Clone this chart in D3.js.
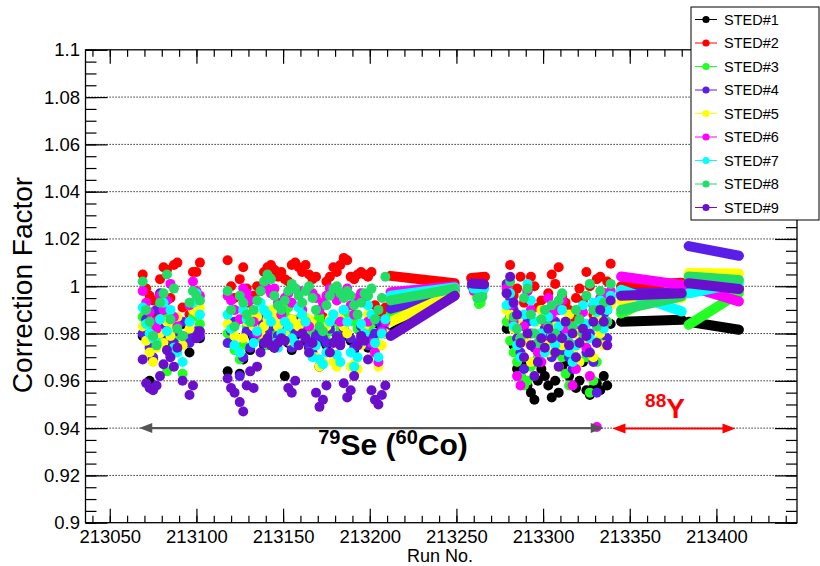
<!DOCTYPE html>
<html><head><meta charset="utf-8">
<script src="https://cdn.jsdelivr.net/npm/d3@7"></script>
<style>body{margin:0;background:#fff} svg{display:block;font-family:"Liberation Sans",Arial,Helvetica,sans-serif}</style>
</head><body><svg id="c" width="820" height="566"></svg>
<script>
const seriesNames = ["STED#1","STED#2","STED#3","STED#4","STED#5","STED#6","STED#7","STED#8","STED#9"];
const seriesColors = ["#000000","#ff0000","#22ff22","#5a1ee8","#ffff00","#ff00ff","#00ffff","#22dd66","#6a0fcc"];
const yTickValues = [0.9,0.92,0.94,0.96,0.98,1.0,1.02,1.04,1.06,1.08,1.1];
const yTickLabels = ["0.9","0.92","0.94","0.96","0.98","1","1.02","1.04","1.06","1.08","1.1"];
const xTickValues = [213050,213100,213150,213200,213250,213300,213350,213400];

const runsA = [213069,213071,213073,213075,213077,213079,213081,213083,213085,213087,213089,213092,213096,213098,213100,213102];
const runsB = [213118,213120,213122,213125,213127,213129,213131,213133,213135,213137,213139,213141,213143,213145,213147,213149,213151,213153,213155,213157,213159,213161,213163,213165,213167,213169,213171,213173,213175,213177,213179,213181,213183,213185,213187,213189,213191,213193,213195,213197,213199,213201,213203,213205,213207,213209];
const runsC = [213279,213281,213283,213285,213287,213289,213291,213293,213295,213297,213299,213301,213303,213305,213307,213309,213311,213313,213315,213317,213319,213321,213323,213325,213327,213329,213331,213333,213335,213337,213339];

const sted1 = [
 0.979,0.985,0.960,0.969,0.989,0.996,0.981,0.977,0.971,0.975,0.980,0.984,0.972,0.978,0.980,0.978,
 0.964,0.980,0.984,0.963,0.969,0.980,0.973,0.978,0.982,0.985,0.975,0.979,0.982,0.974,0.978,0.983,0.962,0.976,0.973,0.979,0.984,0.981,0.977,0.974,0.971,0.978,0.966,0.977,0.975,0.981,0.985,0.978,0.976,0.981,0.979,0.977,0.973,0.975,0.982,0.978,0.974,0.977,0.979,0.984,0.982,0.980,
 0.982,0.987,0.975,0.965,0.962,0.966,0.958,0.955,0.952,0.960,0.965,0.962,0.958,0.953,0.960,0.955,0.966,0.968,0.962,0.958,0.957,0.960,0.968,0.956,0.954,0.957,0.959,0.956,0.962,0.958,0.984];
const sted2 = [
 1.005,0.999,0.996,0.994,0.987,1.003,1.008,1.007,0.995,1.009,1.010,0.991,0.988,1.006,1.006,1.010,
 1.011,1.000,0.995,1.003,1.008,0.999,0.990,0.996,1.000,0.998,1.006,1.008,1.009,1.007,1.004,1.006,1.003,1.002,1.009,1.010,1.008,1.006,1.009,1.005,1.003,1.004,0.988,0.987,1.002,1.004,1.008,1.006,1.009,1.012,1.011,1.004,1.003,1.005,1.006,1.005,1.004,1.006,0.992,0.990,0.989,0.991,
 1.000,1.009,0.996,0.999,1.004,0.993,0.998,1.004,1.000,0.991,0.994,0.985,0.997,1.005,1.001,1.008,0.996,0.993,0.990,0.987,0.995,0.999,0.994,1.006,1.000,0.988,1.003,1.004,0.997,1.002,1.0095];
const sted3 = [
 0.987,0.979,0.975,0.982,0.985,0.979,0.988,0.964,0.983,0.978,0.975,0.963,0.979,0.987,0.992,0.984,
 0.980,0.976,0.973,0.969,0.975,0.983,0.986,0.989,0.984,0.978,0.982,0.975,0.979,0.983,0.980,0.985,0.988,0.991,0.986,0.981,0.986,0.983,0.979,0.983,0.981,0.985,0.987,0.984,0.977,0.981,0.988,0.985,0.982,0.990,0.988,0.986,0.985,0.982,0.978,0.976,0.982,0.984,0.979,0.975,0.980,0.984,
 0.985,0.977,0.972,0.968,0.962,0.958,0.960,0.966,0.975,0.970,0.980,0.983,0.977,0.985,0.982,0.975,0.970,0.963,0.958,0.972,0.980,0.985,0.976,0.970,0.955,0.960,0.968,0.978,0.985,0.990,0.993];
const sted4 = [
 0.980,0.986,0.974,0.970,0.990,0.997,0.982,0.978,0.972,0.976,0.981,0.985,0.976,0.979,0.981,0.979,
 0.976,0.981,0.985,0.962,0.970,0.981,0.974,0.979,0.983,0.986,0.976,0.980,0.983,0.975,0.979,0.984,0.981,0.977,0.974,0.980,0.985,0.982,0.978,0.975,0.972,0.979,0.981,0.978,0.976,0.982,0.986,0.979,0.977,0.982,0.980,0.978,0.974,0.976,0.983,0.979,0.975,0.978,0.980,0.985,0.983,0.981,
 1.001,0.995,0.990,0.978,0.972,0.965,0.985,0.980,0.974,0.968,0.975,0.982,0.978,0.970,0.985,0.980,0.973,0.978,0.970,0.965,0.975,0.982,0.978,0.972,0.980,0.968,0.955,0.985,0.988,0.978,0.996];
const sted5 = [
 0.983,0.977,0.972,0.968,0.974,0.980,0.976,0.985,0.979,0.983,0.987,0.975,0.982,0.990,0.989,0.991,
 0.984,0.982,0.979,0.972,0.978,0.985,0.989,0.983,0.987,0.980,0.983,0.986,0.990,0.987,0.983,0.985,0.980,0.977,0.986,0.984,0.983,0.985,0.987,0.986,0.984,0.970,0.966,0.968,0.983,0.986,0.968,0.966,0.986,0.983,0.980,0.966,0.967,0.965,0.975,0.983,0.988,0.986,0.972,0.966,0.975,0.980,
 0.990,0.988,0.982,0.985,0.978,0.970,0.976,0.968,0.980,0.985,0.990,0.975,0.972,0.978,0.983,0.966,0.975,0.985,0.988,0.972,0.980,0.968,0.975,0.984,0.962,0.970,0.987,0.980,0.975,0.985,0.992];
const sted6 = [
 0.998,0.993,0.989,0.985,0.982,0.996,0.990,0.994,1.001,0.987,0.983,0.979,0.992,1.002,0.998,0.996,
 0.996,0.994,0.990,0.986,0.999,0.997,0.994,0.985,0.980,0.998,1.000,0.999,0.997,0.999,0.993,0.988,0.995,0.997,0.993,0.999,0.998,0.990,0.985,0.983,0.997,0.995,0.990,0.993,0.996,0.999,0.997,0.994,0.985,0.997,0.999,0.992,0.988,0.995,0.997,0.993,0.985,0.976,0.972,0.968,0.981,0.985,
 0.999,0.992,0.985,0.962,0.958,0.983,0.998,0.990,0.975,0.972,0.968,0.985,0.995,0.988,0.978,0.990,0.994,0.982,0.976,0.958,0.965,0.984,0.989,0.974,0.962,0.992,0.9405,0.995,0.997,0.990,0.998];
const sted7 = [
 0.991,0.984,0.980,0.978,0.976,0.986,0.993,0.981,0.990,0.974,0.972,0.968,0.985,0.993,0.997,0.988,
 0.988,0.982,0.975,0.972,0.990,0.986,0.985,0.976,0.981,0.993,0.990,0.988,0.985,0.976,0.974,0.980,0.985,0.983,0.978,0.976,0.991,0.988,0.985,0.972,0.970,0.975,0.969,0.967,0.972,0.985,0.988,0.971,0.968,0.990,0.985,0.972,0.966,0.970,0.984,0.980,0.992,0.988,0.976,0.970,0.980,0.986,
 0.992,0.997,0.983,0.975,0.970,0.988,1.001,0.994,0.985,0.976,0.980,0.972,0.987,0.979,0.975,0.983,0.990,0.978,0.972,0.968,0.975,0.985,0.992,0.984,0.978,0.993,0.989,0.994,0.982,0.990,0.996];
const sted8 = [
 1.002,0.990,0.985,0.979,0.975,0.993,0.997,1.005,0.986,0.999,0.982,0.979,0.993,0.998,0.996,0.994,
 0.998,0.990,0.983,0.996,0.993,0.988,0.985,0.990,0.994,0.998,1.002,1.005,1.003,0.996,0.992,0.990,0.994,0.998,1.001,0.999,0.996,0.993,0.998,1.000,0.995,0.990,0.983,0.981,0.992,0.996,0.999,1.000,0.997,0.995,0.998,0.996,0.992,0.988,0.993,0.997,0.996,0.999,0.986,0.990,0.995,1.004,
 0.997,1.002,0.987,0.982,0.978,0.995,0.999,0.988,0.980,0.976,0.986,0.990,0.983,0.992,0.980,0.994,0.997,0.985,0.976,0.983,0.990,0.986,0.980,0.996,1.001,0.990,0.983,0.998,0.993,0.985,1.001];
const sted9 = [
 0.969,0.959,0.957,0.956,0.958,0.962,0.967,0.973,0.970,0.966,0.974,0.960,0.954,0.958,0.978,0.981,
 0.961,0.957,0.955,0.951,0.947,0.958,0.964,0.957,0.966,0.972,0.976,0.978,0.975,0.974,0.976,0.978,0.977,0.957,0.955,0.960,0.975,0.980,0.978,0.972,0.976,0.955,0.949,0.952,0.958,0.972,0.976,0.978,0.975,0.959,0.953,0.956,0.962,0.975,0.979,0.977,0.969,0.956,0.952,0.950,0.954,0.958,
 0.997,1.004,0.993,0.988,0.976,0.970,0.980,0.975,0.962,0.968,0.978,0.974,0.982,0.978,0.972,0.966,0.978,0.985,0.975,0.980,0.970,0.976,0.982,0.979,0.972,0.985,0.976,0.990,0.985,0.975,0.994];

// runs measured one after another, drawn as continuous bands: [first run, last run]
const bandRuns = [[213212,213249],[213345,213380],[213384,213413]];
const sted1Bands = [[0.980,0.9962],[0.985,0.9858],[0.985,0.9816]];
const sted2Bands = [[1.0044,1.0013],[1.000,1.0015],[0.9995,0.999]];
const sted3Bands = [[0.988,0.9975],[0.9885,1.0006],[0.9837,0.9971]];
const sted4Bands = [[0.9905,0.998],[0.997,0.9972],[1.017,1.0129]];
const sted5Bands = [[0.985,0.997],[0.9935,0.995],[1.0056,1.0054]];
const sted6Bands = [[0.9975,1.000],[1.0041,1.0006],[1.000,0.9936]];
const sted7Bands = [[0.996,0.9995],[0.9985,0.9893],[0.997,1.0013]];
const sted8Bands = [[0.994,0.999],[0.990,0.9957],[1.0041,1.0027]];
const sted9Bands = [[0.979,0.996],[0.996,0.997],[1.0013,0.9988]];
// short group near run 213262: [first run, value, last run, value] per series
const shortGroup = [
  [213261,0.9985,213265,0.9985],[213258.5,1.0035,213266.5,1.0040],[213263,0.9925,213264,0.993],
  [213259,1.000,213266,1.000],[213261,0.9965,213265,0.997],[213260,0.998,213265,0.998],
  [213260,0.999,213266,0.999],[213262,0.995,213265,0.9955],[213259,1.0012,213266,1.0008]];

const seRange = [213067, 213335];
const yRange = [213340, 213411];
const arrowValue = 0.94;

const allRuns = runsA.concat(runsB, runsC);
const seriesValues = [sted1,sted2,sted3,sted4,sted5,sted6,sted7,sted8,sted9];
const seriesBands = [sted1Bands,sted2Bands,sted3Bands,sted4Bands,sted5Bands,sted6Bands,sted7Bands,sted8Bands,sted9Bands];
seriesValues.forEach((v, i) => { if (v.length !== allRuns.length) throw new Error('length ' + i + ': ' + v.length + ' vs ' + allRuns.length); });

const svg = d3.select('#c');
const L = 85.5, R = 797, T = 49.8, B = 522.7;
const x = d3.scaleLinear().domain([213036, 213446.5]).range([L, R]);
const y = d3.scaleLinear().domain([0.9, 1.1]).range([B, T]);

// grid
svg.append('g').selectAll('line').data(yTickValues.slice(1, -1)).join('line')
  .attr('x1', L).attr('x2', R).attr('y1', d => y(d)).attr('y2', d => y(d))
  .attr('stroke', '#000').attr('stroke-width', 1).attr('stroke-dasharray', '1.2,1.8');

// data
const r = 5;
const line = d3.line().x(d => x(d[0])).y(d => y(d[1]));
const plot = svg.append('g');
seriesValues.forEach((vals, i) => {
  const g = plot.append('g');
  const bands = seriesBands[i].map((b, k) => [[bandRuns[k][0], b[0]], [bandRuns[k][1], b[1]]]);
  const s = shortGroup[i];
  bands.push([[s[0], s[1]], [s[2], s[3]]]);
  g.selectAll('path').data(bands).join('path')
    .attr('d', line).attr('fill', 'none').attr('stroke', seriesColors[i])
    .attr('stroke-width', 2 * r).attr('stroke-linecap', 'round');
  g.selectAll('circle').data(vals.map((v, k) => [allRuns[k], v])).join('circle')
    .attr('cx', d => x(d[0])).attr('cy', d => y(d[1])).attr('r', r)
    .attr('fill', seriesColors[i]);
});

// axes
const axG = svg.append('g');
const yMinor = d3.range(0.9, 1.1001, 0.005);
const xMinor = d3.range(213040, 213446, 10);
const axLeft = axG.append('g').attr('transform', `translate(${L},0)`)
  .call(d3.axisLeft(y).tickValues(yTickValues).tickSize(-22).tickPadding(5.5)
    .tickFormat((d, k) => yTickLabels[k]));
axLeft.append('g').call(d3.axisLeft(y).tickValues(yMinor).tickSize(-11).tickFormat(''));
const axRight = axG.append('g').attr('transform', `translate(${R},0)`)
  .call(d3.axisRight(y).tickValues(yTickValues).tickSize(-22).tickFormat(''));
axRight.append('g').call(d3.axisRight(y).tickValues(yMinor).tickSize(-11).tickFormat(''));
const axBottom = axG.append('g').attr('transform', `translate(0,${B})`)
  .call(d3.axisBottom(x).tickValues(xTickValues).tickSize(-14).tickPadding(7.5).tickFormat(d3.format('d')));
axBottom.append('g').call(d3.axisBottom(x).tickValues(xMinor).tickSize(-7).tickFormat(''));
const axTop = axG.append('g').attr('transform', `translate(0,${T})`)
  .call(d3.axisTop(x).tickValues(xTickValues).tickSize(-14).tickFormat(''));
axTop.append('g').call(d3.axisTop(x).tickValues(xMinor).tickSize(-7).tickFormat(''));
axG.selectAll('.domain').remove();
axG.selectAll('.tick line').attr('stroke', '#000').attr('stroke-width', 1.2);
axG.selectAll('text').attr('font-size', 18.5).attr('fill', '#000').attr('font-family', '"Liberation Sans",Arial,sans-serif');
svg.append('rect').attr('x', L).attr('y', T).attr('width', R - L).attr('height', B - T)
  .attr('fill', 'none').attr('stroke', '#000').attr('stroke-width', 1.3);

// titles
svg.append('text').attr('x', 440).attr('y', 562).attr('text-anchor', 'middle')
  .attr('font-size', 18).text('Run No.');
svg.append('text').attr('transform', 'translate(32,285) rotate(-90)')
  .attr('text-anchor', 'middle').attr('font-size', 28).text('Correction Factor');

// arrows
function arrowHead(xp, yp, dir, color) {
  const len = 13, hw = 5;
  svg.append('path').attr('d', `M${xp},${yp} L${xp - dir * len},${yp - hw} L${xp - dir * len},${yp + hw} Z`).attr('fill', color);
}
const ay = y(arrowValue);
svg.append('line').attr('x1', x(seRange[0]) + 8).attr('x2', x(seRange[1]) - 8).attr('y1', ay).attr('y2', ay)
  .attr('stroke', '#555').attr('stroke-width', 2.2);
arrowHead(x(seRange[0]), ay, -1, '#555');
arrowHead(x(seRange[1]), ay, 1, '#555');
svg.append('line').attr('x1', x(yRange[0]) + 8).attr('x2', x(yRange[1]) - 8).attr('y1', ay + 0.5).attr('y2', ay + 0.5)
  .attr('stroke', '#ff0000').attr('stroke-width', 2);
arrowHead(x(yRange[0]), ay + 0.5, -1, '#ff0000');
arrowHead(x(yRange[1]), ay + 0.5, 1, '#ff0000');

const t1 = svg.append('text').attr('x', 393).attr('y', 455).attr('text-anchor', 'middle')
  .attr('font-weight', 'bold').attr('font-size', 30).attr('fill', '#000');
t1.append('tspan').attr('font-size', 20).attr('dy', -11).text('79');
t1.append('tspan').attr('dy', 11).text('Se (');
t1.append('tspan').attr('font-size', 20).attr('dy', -11).text('60');
t1.append('tspan').attr('dy', 11).text('Co)');
const t2 = svg.append('text').attr('x', 665).attr('y', 418).attr('text-anchor', 'middle')
  .attr('font-weight', 'bold').attr('font-size', 28).attr('fill', '#ff0000');
t2.append('tspan').attr('font-size', 19).attr('dy', -11).text('88');
t2.append('tspan').attr('dy', 11).text('Y');

// legend
const lg = svg.append('g');
lg.append('rect').attr('x', 691).attr('y', 7).attr('width', 128).attr('height', 213)
  .attr('fill', '#fff').attr('stroke', '#000').attr('stroke-width', 1);
seriesNames.forEach((n, i) => {
  const yy = 19.5 + i * 23.5;
  lg.append('line').attr('x1', 695).attr('x2', 717).attr('y1', yy).attr('y2', yy).attr('stroke', seriesColors[i]).attr('stroke-width', 1);
  lg.append('circle').attr('cx', 706).attr('cy', yy).attr('r', 3.6).attr('fill', seriesColors[i]);
  lg.append('text').attr('x', 724).attr('y', yy + 5).attr('font-size', 14.5).attr('fill', '#000').text(n);
});
</script></body></html>
